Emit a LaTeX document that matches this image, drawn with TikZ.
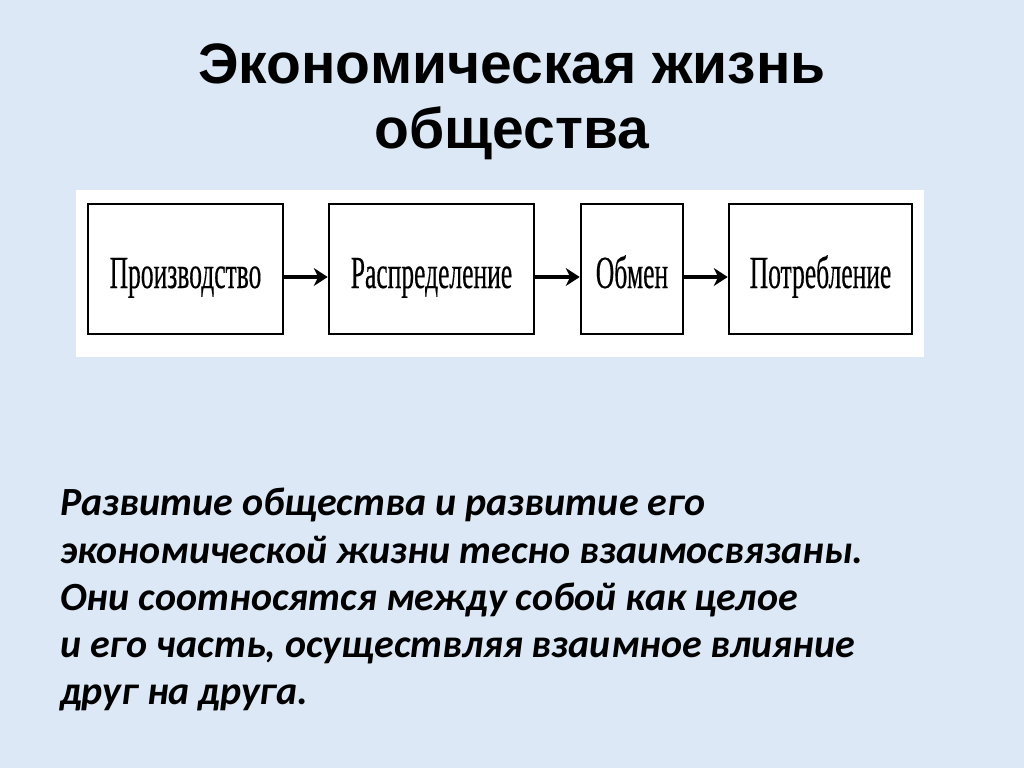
\documentclass[tikz,border=0pt]{standalone}
\usepackage{fontspec}
\setmainfont{Liberation Sans}
\newfontfamily\titlefont{Liberation Sans}
\newfontfamily\boxfont[FakeStretch=0.555,FakeBold=0.3]{Liberation Serif}
\newfontfamily\notefont{Carlito}
\usetikzlibrary{arrows.meta}
\definecolor{paper}{HTML}{DCE8F6}

\begin{document}
\begin{tikzpicture}[x=1pt,y=-1pt,
  stagebox/.style={draw,line width=2.6pt,rectangle,minimum height=130pt,inner sep=0pt,
    text height=38pt,text depth=0pt,font=\boxfont\fontsize{46}{46}\selectfont},
  flow/.style={-{Stealth[length=14pt,width=18pt]},line width=3.6pt}]

\fill[paper] (0,0) rectangle (1024,768);
\useasboundingbox (0,0) rectangle (1024,768);

\path (512,102) node[font=\titlefont\bfseries\fontsize{57}{65}\selectfont,align=center](title){Экономическая жизнь\\общества} ;

\fill[white] (76,190) rectangle (924,357);

\path (185.5,269) node[stagebox,minimum width=195pt](prod){Производство} ;
\path (431.5,269) node[stagebox,minimum width=205pt](distr){Распределение} ;
\path (632,269) node[stagebox,minimum width=102pt](exch){Обмен} ;
\path (820.5,269) node[stagebox,minimum width=183pt](cons){Потребление} ;

\draw[flow] ([yshift=-8pt]prod.east) -- ([yshift=-8pt]distr.west);
\draw[flow] ([yshift=-8pt]distr.east) -- ([yshift=-8pt]exch.west);
\draw[flow] ([yshift=-8pt]exch.east) -- ([yshift=-8pt]cons.west);

\path (60,488) node[anchor=north west,align=left,inner sep=0pt,
  font=\notefont\bfseries\itshape\fontsize{40}{47.3}\selectfont](note){Развитие общества и развитие его\\
экономической жизни тесно взаимосвязаны.\\
Они соотносятся между собой как целое\\
и его часть, осуществляя взаимное влияние\\
друг на друга.} ;

\end{tikzpicture}
\end{document}
